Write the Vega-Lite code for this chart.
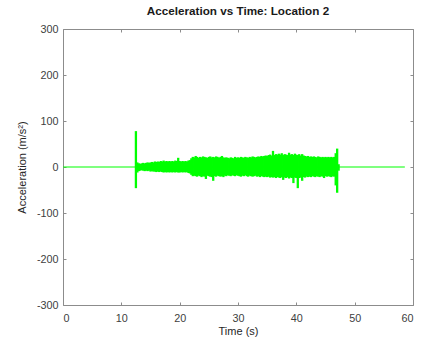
{
  "$schema": "https://vega.github.io/schema/vega-lite/v6.json",
  "width": 350,
  "height": 276,
  "autosize": {"type": "none"},
  "padding": {"left": 63, "top": 29, "right": 35, "bottom": 37},
  "background": "white",
  "title": {"text": "Acceleration vs Time: Location 2", "font": "Liberation Sans", "fontSize": 11.7, "fontWeight": "bold", "color": "#1a1a1a", "offset": 5, "anchor": "middle"},
  "config": {
    "view": {"stroke": null},
    "axis": {
      "grid": false,
      "domainColor": "#8c8c8c",
      "tickColor": "#8c8c8c",
      "tickSize": -3,
      "labelFont": "Liberation Sans",
      "labelFontSize": 10.8,
      "labelColor": "#404040",
      "titleFont": "Liberation Sans",
      "titleFontSize": 11,
      "titleFontWeight": "normal",
      "titleColor": "#262626"
    }
  },
  "datasets": {
    "base": [{"t0": 0, "t1": 58.6, "v": 0}],
    "sig": [
      {"t": 12.5, "lo": -46, "hi": 78},
      {"t": 12.75, "lo": -12, "hi": 10},
      {"t": 13.0, "lo": -9, "hi": 8},
      {"t": 13.25, "lo": -8, "hi": 7},
      {"t": 13.5, "lo": -7, "hi": 8},
      {"t": 13.75, "lo": -8, "hi": 9},
      {"t": 14.0, "lo": -9, "hi": 8},
      {"t": 14.25, "lo": -8, "hi": 9},
      {"t": 14.5, "lo": -9, "hi": 10},
      {"t": 14.75, "lo": -8, "hi": 9},
      {"t": 15.0, "lo": -10, "hi": 10},
      {"t": 15.25, "lo": -9, "hi": 11},
      {"t": 15.5, "lo": -10, "hi": 10},
      {"t": 15.75, "lo": -10, "hi": 12},
      {"t": 16.0, "lo": -11, "hi": 11},
      {"t": 16.25, "lo": -10, "hi": 12},
      {"t": 16.5, "lo": -11, "hi": 11},
      {"t": 16.75, "lo": -10, "hi": 13},
      {"t": 17.0, "lo": -11, "hi": 12},
      {"t": 17.25, "lo": -12, "hi": 14},
      {"t": 17.5, "lo": -11, "hi": 12},
      {"t": 17.75, "lo": -12, "hi": 13},
      {"t": 18.0, "lo": -11, "hi": 12},
      {"t": 18.25, "lo": -12, "hi": 13},
      {"t": 18.5, "lo": -11, "hi": 12},
      {"t": 18.75, "lo": -12, "hi": 13},
      {"t": 19.0, "lo": -11, "hi": 12},
      {"t": 19.25, "lo": -12, "hi": 14},
      {"t": 19.5, "lo": -11, "hi": 13},
      {"t": 19.75, "lo": -12, "hi": 20},
      {"t": 20.0, "lo": -12, "hi": 13},
      {"t": 20.25, "lo": -11, "hi": 12},
      {"t": 20.5, "lo": -12, "hi": 13},
      {"t": 20.75, "lo": -11, "hi": 12},
      {"t": 21.0, "lo": -12, "hi": 13},
      {"t": 21.25, "lo": -11, "hi": 12},
      {"t": 21.5, "lo": -13, "hi": 14},
      {"t": 21.75, "lo": -14, "hi": 15},
      {"t": 22.0, "lo": -17, "hi": 19},
      {"t": 22.25, "lo": -20, "hi": 22},
      {"t": 22.5, "lo": -19, "hi": 21},
      {"t": 22.75, "lo": -20, "hi": 24},
      {"t": 23.0, "lo": -21, "hi": 22},
      {"t": 23.25, "lo": -19, "hi": 20},
      {"t": 23.5, "lo": -20, "hi": 22},
      {"t": 23.75, "lo": -22, "hi": 21},
      {"t": 24.0, "lo": -20, "hi": 23},
      {"t": 24.25, "lo": -21, "hi": 22},
      {"t": 24.5, "lo": -26, "hi": 21},
      {"t": 24.75, "lo": -19, "hi": 20},
      {"t": 25.0, "lo": -20, "hi": 22},
      {"t": 25.25, "lo": -21, "hi": 23},
      {"t": 25.5, "lo": -22, "hi": 21},
      {"t": 25.75, "lo": -30, "hi": 22},
      {"t": 26.0, "lo": -20, "hi": 21},
      {"t": 26.25, "lo": -21, "hi": 23},
      {"t": 26.5, "lo": -19, "hi": 22},
      {"t": 26.75, "lo": -20, "hi": 20},
      {"t": 27.0, "lo": -21, "hi": 22},
      {"t": 27.25, "lo": -20, "hi": 24},
      {"t": 27.5, "lo": -22, "hi": 21},
      {"t": 27.75, "lo": -19, "hi": 20},
      {"t": 28.0, "lo": -20, "hi": 21},
      {"t": 28.25, "lo": -18, "hi": 20},
      {"t": 28.5, "lo": -19, "hi": 19},
      {"t": 28.75, "lo": -20, "hi": 21},
      {"t": 29.0, "lo": -18, "hi": 20},
      {"t": 29.25, "lo": -19, "hi": 19},
      {"t": 29.5, "lo": -20, "hi": 22},
      {"t": 29.75, "lo": -18, "hi": 20},
      {"t": 30.0, "lo": -19, "hi": 21},
      {"t": 30.25, "lo": -20, "hi": 20},
      {"t": 30.5, "lo": -21, "hi": 22},
      {"t": 30.75, "lo": -19, "hi": 21},
      {"t": 31.0, "lo": -20, "hi": 20},
      {"t": 31.25, "lo": -18, "hi": 22},
      {"t": 31.5, "lo": -20, "hi": 21},
      {"t": 31.75, "lo": -21, "hi": 20},
      {"t": 32.0, "lo": -19, "hi": 22},
      {"t": 32.25, "lo": -20, "hi": 21},
      {"t": 32.5, "lo": -21, "hi": 23},
      {"t": 32.75, "lo": -20, "hi": 22},
      {"t": 33.0, "lo": -19, "hi": 21},
      {"t": 33.25, "lo": -21, "hi": 22},
      {"t": 33.5, "lo": -20, "hi": 23},
      {"t": 33.75, "lo": -22, "hi": 22},
      {"t": 34.0, "lo": -20, "hi": 24},
      {"t": 34.25, "lo": -21, "hi": 23},
      {"t": 34.5, "lo": -22, "hi": 24},
      {"t": 34.75, "lo": -21, "hi": 25},
      {"t": 35.0, "lo": -22, "hi": 24},
      {"t": 35.25, "lo": -21, "hi": 26},
      {"t": 35.5, "lo": -23, "hi": 27},
      {"t": 35.75, "lo": -22, "hi": 25},
      {"t": 36.0, "lo": -23, "hi": 35},
      {"t": 36.25, "lo": -22, "hi": 26},
      {"t": 36.5, "lo": -24, "hi": 28},
      {"t": 36.75, "lo": -22, "hi": 27},
      {"t": 37.0, "lo": -23, "hi": 29},
      {"t": 37.25, "lo": -24, "hi": 27},
      {"t": 37.5, "lo": -22, "hi": 30},
      {"t": 37.75, "lo": -28, "hi": 26},
      {"t": 38.0, "lo": -23, "hi": 28},
      {"t": 38.25, "lo": -24, "hi": 27},
      {"t": 38.5, "lo": -22, "hi": 26},
      {"t": 38.75, "lo": -25, "hi": 31},
      {"t": 39.0, "lo": -23, "hi": 27},
      {"t": 39.25, "lo": -24, "hi": 28},
      {"t": 39.5, "lo": -35, "hi": 26},
      {"t": 39.75, "lo": -23, "hi": 29},
      {"t": 40.0, "lo": -24, "hi": 27},
      {"t": 40.25, "lo": -46, "hi": 26},
      {"t": 40.5, "lo": -24, "hi": 28},
      {"t": 40.75, "lo": -23, "hi": 25},
      {"t": 41.0, "lo": -30, "hi": 28},
      {"t": 41.25, "lo": -22, "hi": 25},
      {"t": 41.5, "lo": -23, "hi": 24},
      {"t": 41.75, "lo": -21, "hi": 23},
      {"t": 42.0, "lo": -22, "hi": 24},
      {"t": 42.25, "lo": -21, "hi": 22},
      {"t": 42.5, "lo": -22, "hi": 23},
      {"t": 42.75, "lo": -20, "hi": 22},
      {"t": 43.0, "lo": -21, "hi": 23},
      {"t": 43.25, "lo": -22, "hi": 22},
      {"t": 43.5, "lo": -20, "hi": 21},
      {"t": 43.75, "lo": -21, "hi": 23},
      {"t": 44.0, "lo": -22, "hi": 22},
      {"t": 44.25, "lo": -20, "hi": 21},
      {"t": 44.5, "lo": -21, "hi": 22},
      {"t": 44.75, "lo": -24, "hi": 21},
      {"t": 45.0, "lo": -20, "hi": 22},
      {"t": 45.25, "lo": -21, "hi": 21},
      {"t": 45.5, "lo": -20, "hi": 22},
      {"t": 45.75, "lo": -21, "hi": 21},
      {"t": 46.0, "lo": -22, "hi": 22},
      {"t": 46.25, "lo": -20, "hi": 21},
      {"t": 46.5, "lo": -21, "hi": 22},
      {"t": 46.75, "lo": -40, "hi": 30},
      {"t": 47.0, "lo": -56, "hi": 40},
      {"t": 47.25, "lo": -8, "hi": 6}
    ]
  },
  "layer": [
    {
      "data": {"name": "base"},
      "mark": {"type": "rule", "color": "#00ff00", "strokeWidth": 1.2},
      "encoding": {
        "x": {"field": "t0", "type": "quantitative", "scale": {"domain": [0, 60], "nice": false}, "axis": {"orient": "bottom", "title": "Time (s)", "values": [0, 10, 20, 30, 40, 50, 60], "labelPadding": 10, "titlePadding": 3}},
        "x2": {"field": "t1"},
        "y": {"field": "v", "type": "quantitative", "scale": {"domain": [-300, 300], "nice": false}, "axis": {"orient": "left", "title": "Acceleration (m/s²)", "values": [-300, -200, -100, 0, 100, 200, 300], "labelExpr": "replace(datum.label, '−', '-')", "labelPadding": 8, "titlePadding": 9}}
      }
    },
    {
      "data": {"name": "sig"},
      "mark": {"type": "rule", "color": "#00ff00", "strokeWidth": 2.3},
      "encoding": {
        "x": {"field": "t", "type": "quantitative", "axis": {"orient": "top", "title": null, "labels": false, "values": [0, 10, 20, 30, 40, 50, 60]}},
        "y": {"field": "lo", "type": "quantitative", "axis": {"orient": "right", "title": null, "labels": false, "values": [-300, -200, -100, 0, 100, 200, 300]}},
        "y2": {"field": "hi"}
      }
    }
  ],
  "resolve": {"axis": {"x": "independent", "y": "independent"}}
}
